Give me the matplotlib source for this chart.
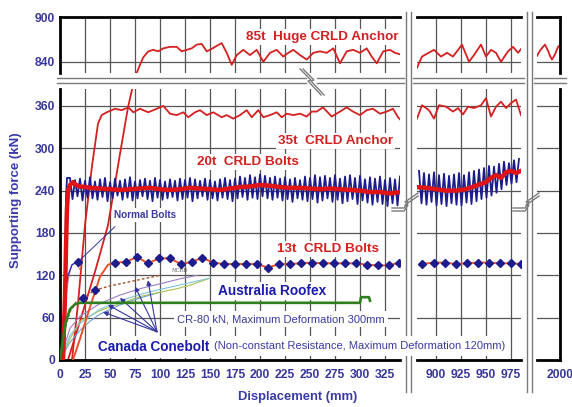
"""
Supporting force vs displacement for CRLD bolts / anchors and
comparison bolts (broken-axis figure, three x ranges, two y ranges).
"""

import numpy as np
import matplotlib
matplotlib.use("Agg")
import matplotlib.pyplot as plt


# ============================================================
# DATA  (displacement mm, force kN)
# ============================================================

ANCHOR85_LOAD = [(8, 0), (20, 55), (35, 125), (48, 191), (60, 292), (68, 358), (72.5, 386), (74, 400)]
ANCHOR85_LEFT = [(76.7, 825), (80, 836), (83.3, 846), (88.3, 854), (93.3, 856), (98.3, 854), (103.3, 858),
                 (110, 860), (116.7, 860), (121.7, 854), (126.7, 856), (131.7, 858), (136.7, 863), (141.7, 864),
                 (146.7, 854), (150, 856), (155, 860), (161.7, 865), (166.7, 852), (171.7, 836), (176.7, 849),
                 (183.3, 856), (190, 849), (196.7, 856), (203.3, 840), (210, 852), (216.7, 856), (223.3, 847),
                 (228.3, 852), (233.3, 856), (240, 849), (246.7, 843), (253.3, 852), (260, 854), (266.7, 852),
                 (273.3, 858), (280, 838), (286.7, 854), (293.3, 856), (300, 852), (306.7, 858), (311.7, 847),
                 (316.7, 838), (323.3, 854), (330, 856), (335, 852), (340, 850)]
ANCHOR85_MID = [(881, 832), (886, 847), (898, 856), (905, 847), (911, 852), (917, 847), (926, 863), (933, 840),
                (938, 849), (945, 863), (950, 847), (955, 856), (960, 852), (965, 840), (972, 854), (977, 860),
                (982, 852), (985, 857)]
ANCHOR85_RIGHT = [(1977, 848), (1980, 855), (1983, 860), (1985, 863), (1988, 855), (1990, 848), (1992, 843),
                  (1995, 850), (1998, 860), (2000, 862)]

ANCHOR35_LEFT = [(12, 0), (18, 80), (25, 191), (32, 275), (38, 335), (41.7, 347), (46.7, 351), (55, 356),
                 (61.7, 354), (68.3, 358), (73.3, 351), (80, 356), (88.3, 351), (96.7, 356), (103.3, 360),
                 (110, 349), (116.7, 347), (123.3, 351), (128.3, 344), (135, 351), (140, 354), (146.7, 347),
                 (153.3, 351), (161.7, 344), (166.7, 347), (173.3, 342), (180, 347), (186.7, 354), (191.7, 344),
                 (198.3, 354), (203.3, 344), (210, 347), (216.7, 351), (221.7, 344), (226.7, 349), (233.3, 347),
                 (240, 349), (246.7, 345), (251.7, 352), (256.7, 352), (263, 358), (271.7, 345), (280, 352),
                 (286.7, 358), (293, 352), (300, 347), (306.7, 354), (313, 356), (320, 349), (326.7, 352),
                 (333, 356), (338, 344), (340, 341)]
ANCHOR35_MID = [(881, 342), (886, 361), (893, 354), (898, 342), (903, 361), (910, 359), (917, 352), (922, 357),
                (927, 348), (932, 359), (938, 357), (945, 361), (950, 371), (955, 345), (960, 359), (965, 366),
                (970, 357), (975, 364), (980, 369), (985, 347)]

BOLT20_LEFT = [(3, 0), (5, 90), (6, 160), (7, 215), (8, 240), (10, 248), (13, 252), (16, 248), (20, 246),
               (30, 244), (40, 243), (50, 242), (60, 241), (70, 242), (80, 243), (90, 244), (100, 242),
               (110, 241), (120, 242), (130, 244), (140, 243), (150, 242), (160, 241), (170, 243), (180, 245),
               (190, 246), (200, 248), (210, 247), (220, 245), (230, 244), (240, 244), (250, 243), (260, 242),
               (270, 243), (280, 242), (290, 241), (300, 240), (310, 238), (320, 238), (330, 236), (340, 238)]
BOLT20_MID = [(881, 245), (890, 244), (900, 242), (910, 240), (920, 240), (930, 242), (940, 247), (950, 252),
              (955, 258), (960, 262), (965, 258), (970, 266), (975, 268), (980, 265), (985, 268)]

# raw (oscillating) 20t record: rise, then alternating peaks / troughs
BOLT20_RAW_RISE = [(4, 0), (5, 120), (6, 230), (7, 258)]
BOLT20_RAW_PEAKS = [258, 255, 257, 254, 259, 253, 256, 258, 252, 257, 254, 256, 259, 253, 255, 257, 254, 258,
                    255, 253, 256, 254, 257, 255, 258, 256, 254, 257, 255, 253, 256, 258, 255, 257, 260, 258,
                    262, 259, 263, 261, 258, 260, 257, 259, 256, 258, 255, 260, 258, 262, 259, 261, 258, 262,
                    257, 260, 262, 258, 261, 256, 259, 257, 260, 255, 258, 256, 260]
BOLT20_RAW_TROUGHS = [228, 232, 226, 230, 229, 227, 231, 225, 229, 233, 227, 230, 226, 229, 232, 228, 225, 230,
                      227, 229, 231, 226, 228, 230, 225, 229, 232, 227, 229, 226, 230, 228, 225, 229, 231, 227,
                      230, 228, 232, 229, 227, 230, 226, 228, 224, 229, 227, 225, 228, 223, 226, 229, 224, 227,
                      222, 225, 228, 221, 226, 223, 220, 224, 221, 218, 222, 219]
BOLT20_RAW_MID_PEAKS = [268, 265, 263, 266, 262, 264, 261, 263, 265, 262, 266, 268, 270, 272, 275, 274, 278,
                        281, 279, 283, 285]
BOLT20_RAW_MID_TROUGHS = [222, 220, 224, 219, 221, 218, 222, 220, 219, 223, 221, 225, 228, 230, 233, 237, 242,
                          248, 250, 252]

BOLT13_RISE = [(13, 0), (20, 30), (30, 75), (40, 118), (48, 135)]
BOLT13_LEFT = [(55, 138), (66, 139), (77, 146), (88, 137), (99, 144), (110, 144), (121, 136), (132, 139),
               (142, 145), (153, 138), (164, 136), (175, 136), (186, 136), (197, 136), (208, 131), (219, 136),
               (230, 136), (241, 137), (252, 138), (263, 137), (274, 137), (285, 137), (296, 137), (307, 135),
               (318, 134), (329, 134), (339, 138)]
BOLT13_MID = [(886, 136), (898, 138), (909, 138), (920, 136), (931, 137), (942, 138), (953, 138), (964, 137),
              (975, 137), (985, 136)]

ROOFEX = [(0, 0), (3, 30), (6, 55), (10, 72), (15, 79), (20, 81), (300, 81), (301, 89), (309, 89), (310, 84)]

NORMAL_PINK = [(0, 0), (3, 40), (6, 90), (9, 120), (12, 135), (15, 138), (17, 135), (20, 128)]
NORMAL_BLUE = [(2, 0), (5, 95), (8, 120), (12, 135), (18, 139)]

CONE_BROWN = [(0, 0), (5, 45), (10, 68), (16, 82), (23, 88), (35, 99), (50, 105), (70, 111), (100, 120)]
CONE_PURPLE = [(0, 0), (10, 45), (20, 62), (40, 80), (60, 92), (80, 101), (100, 108), (120, 115), (137, 120)]
CONE_LIGHTBLUE = [(0, 0), (10, 35), (20, 52), (40, 72), (60, 84), (80, 93), (100, 100), (125, 108), (150, 116)]
CONE_OLIVE = [(0, 0), (10, 30), (20, 55), (40, 70), (60, 80), (80, 90), (100, 96), (117, 101), (130, 106),
              (150, 116)]
CONE_STEEL = [(0, 0), (10, 25), (20, 42), (30, 55), (40, 65), (60, 78), (80, 88), (100, 96)]

CONE_ARROW_FROM = (97, 40)
CONE_ARROW_TIPS = [(43, 68), (48, 78), (60, 88), (75, 104), (88, 113)]
NORMAL_ARROW_FROM = (55, 189)
NORMAL_ARROW_TIP = (18, 139)

X_TICKS_LEFT = [0, 25, 50, 75, 100, 125, 150, 175, 200, 225, 250, 275, 300, 325]
X_TICKS_MID = [900, 925, 950, 975]
X_TICKS_RIGHT = [2000]
Y_TICKS_BOTTOM = [0, 60, 120, 180, 240, 300, 360]
Y_TICKS_TOP = [840, 900]


# ============================================================
# LAYOUT (pixels of a 572 x 407 canvas)
# ============================================================

W, H = 572, 407
TICK_COLOR = "#37379a"
LABEL_COLOR = "#3a3aa8"
GRID_COLOR = "#555555"
BREAK_COLOR = "#7a7a7a"
RED = "#d42020"
NAVY = "#1c1c8c"

plt.rcParams["font.family"] = ["Liberation Sans", "DejaVu Sans"]


def xy(points):
    arr = np.array(points, dtype=float)
    return arr[:, 0], arr[:, 1]


def axes_at(fig, x0, y0, x1, y1):
    return fig.add_axes([x0 / W, 1 - y1 / H, (x1 - x0) / W, (y1 - y0) / H])


def oscillation(x0, x1, peaks, troughs):
    """Interleave peak and trough readings along the displacement range."""
    xp = np.linspace(x0, x1, len(peaks))
    step = xp[1] - xp[0]
    xt = xp[: len(troughs)] + step / 2
    xs = np.empty(len(xp) + len(xt))
    ys = np.empty_like(xs)
    xs[0::2], ys[0::2] = xp, peaks
    xs[1::2], ys[1::2] = xt, troughs
    return xs, ys


def style_panel(ax, xlim, ylim, xticks, yticks, show_x, show_y, spines):
    ax.set_xlim(*xlim)
    ax.set_ylim(*ylim)
    ax.set_xticks(xticks)
    ax.set_yticks(yticks)
    ax.grid(True, color=GRID_COLOR, linewidth=0.9)
    ax.set_axisbelow(True)
    ax.tick_params(length=0, labelsize=8.7, labelcolor=TICK_COLOR, pad=6.5 if show_x else 3.5)
    ax.tick_params(axis="y", pad=3.5)
    for lab in ax.get_xticklabels() + ax.get_yticklabels():
        lab.set_fontweight("bold")
    if not show_x:
        ax.set_xticklabels([])
    if not show_y:
        ax.set_yticklabels([])
    for side, spine in ax.spines.items():
        if side in spines:
            spine.set_color("black")
            spine.set_linewidth(2.0)
        else:
            spine.set_visible(False)


# ============================================================
# FIGURE
# ============================================================

def main() -> None:
    fig = plt.figure(figsize=(W / 100, H / 100), dpi=100)

    cols = {
        "left": (60, 400, (0, 340), X_TICKS_LEFT),
        "mid": (417, 521, (881, 985), X_TICKS_MID),
        "right": (537, 560, (1977, 2000), X_TICKS_RIGHT),
    }
    rows = {
        "top": (17, 73, (825, 900), Y_TICKS_TOP),
        "bottom": (89, 360, (0, 384), Y_TICKS_BOTTOM),
    }
    axs = {}
    for rname, (y0, y1, ylim, yt) in rows.items():
        for cname, (x0, x1, xlim, xt) in cols.items():
            ax = axes_at(fig, x0, y0, x1, y1)
            spines = ["top"] if rname == "top" else ["bottom"]
            if cname == "left":
                spines.append("left")
            if cname == "right":
                spines.append("right")
            style_panel(ax, xlim, ylim, xt, yt, rname == "bottom", cname == "left", spines)
            axs[(rname, cname)] = ax

    tl, tm, tr = axs[("top", "left")], axs[("top", "mid")], axs[("top", "right")]
    bl, bm = axs[("bottom", "left")], axs[("bottom", "mid")]

    # 85t huge anchor
    tl.plot(*xy(ANCHOR85_LEFT), color=RED, lw=1.3)
    tm.plot(*xy(ANCHOR85_MID), color=RED, lw=1.3)
    tr.plot(*xy(ANCHOR85_RIGHT), color=RED, lw=1.3)
    bl.plot(*xy(ANCHOR85_LOAD), color=RED, lw=1.3)

    # 35t anchor
    bl.plot(*xy(ANCHOR35_LEFT), color=RED, lw=1.3)
    bm.plot(*xy(ANCHOR35_MID), color=RED, lw=1.3)

    # 20t bolts: raw oscillating record + smoothed
    rx, ry = xy(BOLT20_RAW_RISE)
    ox, oy = oscillation(10, 340, BOLT20_RAW_PEAKS, BOLT20_RAW_TROUGHS)
    bl.plot(np.r_[rx, ox], np.r_[ry, oy], color=NAVY, lw=1.3, zorder=3)
    mx, my = oscillation(883, 983, BOLT20_RAW_MID_PEAKS, BOLT20_RAW_MID_TROUGHS)
    bm.plot(mx, my, color=NAVY, lw=1.3, zorder=3)
    bl.plot(*xy(BOLT20_LEFT), color="#e01414", lw=3.2, zorder=4)
    bm.plot(*xy(BOLT20_MID), color="#e01414", lw=3.2, zorder=4)

    # 13t bolts
    bl.plot(*xy(BOLT13_RISE + BOLT13_LEFT), color="#e8502a", lw=1.4, zorder=4)
    bl.plot(*xy(BOLT13_LEFT), ls="none", marker="D", ms=3.6, color=NAVY, zorder=5)
    bm.plot(*xy(BOLT13_MID), color="#e8502a", lw=1.4, zorder=4)
    bm.plot(*xy(BOLT13_MID), ls="none", marker="D", ms=3.6, color=NAVY, zorder=5)

    # comparison bolts
    bl.plot(*xy(CONE_STEEL), color="#6a9fd0", lw=0.8)
    bl.plot(*xy(CONE_OLIVE), color="#a8c050", lw=0.8)
    bl.plot(*xy(CONE_LIGHTBLUE), color="#7fc4d8", lw=0.8)
    bl.plot(*xy(CONE_PURPLE), color="#9a7fc8", lw=0.8)
    bl.plot(*xy(CONE_BROWN), color="#a0522d", lw=1.0, ls=(0, (2, 1.5)))
    bx, by = xy(CONE_BROWN)
    bl.plot(bx[4:6], by[4:6], ls="none", marker="D", ms=3.6, color=NAVY, zorder=5)
    bl.plot(*xy(ROOFEX), color="#2e7d1e", lw=1.9, zorder=4)
    bl.plot(*xy(NORMAL_PINK), color="#c88080", lw=0.8)
    bl.plot(*xy(NORMAL_BLUE), color="#2828c0", lw=0.9)
    bl.plot(*NORMAL_ARROW_TIP, ls="none", marker="D", ms=3.6, color=NAVY, zorder=5)

    for tip in CONE_ARROW_TIPS:
        bl.annotate("", xy=tip, xytext=CONE_ARROW_FROM,
                    arrowprops=dict(arrowstyle="-|>", color="#3535a0", lw=0.8,
                                    mutation_scale=7, shrinkA=0, shrinkB=0))
    bl.annotate("", xy=NORMAL_ARROW_TIP, xytext=NORMAL_ARROW_FROM,
                arrowprops=dict(arrowstyle="-", color="#3535a0", lw=0.7, shrinkA=0, shrinkB=0))
    bl.text(120, 127, "MCRD", fontsize=3.5, family="serif", color="#555555", ha="center", va="center")

    # overlay in canvas pixels: axis breaks and labels
    ov = fig.add_axes([0, 0, 1, 1], zorder=5)
    ov.set_xlim(0, W)
    ov.set_ylim(H, 0)
    ov.axis("off")
    ov.patch.set_visible(False)

    for yy in (78.3, 82.5):
        for xa, xb in ((57, 306), (317, 404), (413, 524), (534, 566)):
            ov.plot([xa, xb], [yy, yy], color=BREAK_COLOR, lw=1.0)
    for xx in (406, 410.5, 527, 531.5):
        ov.plot([xx, xx], [12, 392], color=BREAK_COLOR, lw=1.0)
    zig = np.array([(0, 0), (11, 11), (8, 12), (21, 26)])
    for dx in (0, 3):
        ov.plot(300 + dx + zig[:, 0], 69 + zig[:, 1], color=BREAK_COLOR, lw=1.0)
    bolt = np.array([(0, 0), (12, 0), (16, -6), (13, -6), (26, -15)])
    for x0 in (392, 513):
        ov.fill_between([x0 + 10, x0 + 16], 203, 209, color="white", zorder=1)
        for dy in (0, -3):
            ov.plot(x0 + bolt[:, 0], 211 + dy + bolt[:, 1], color=BREAK_COLOR, lw=1.0)

    box = dict(facecolor="white", edgecolor="none", pad=1.2)
    red_bold = dict(color=RED, fontweight="bold", fontsize=9.7, ha="left", va="center", bbox=box)
    ov.text(246, 37, "85t  Huge CRLD Anchor", **red_bold)
    ov.text(278, 141, "35t  CRLD Anchor", **red_bold)
    ov.text(197, 162, "20t  CRLD Bolts", **red_bold)
    ov.text(277, 249, "13t  CRLD Bolts", **red_bold)
    ov.text(114, 215, "Normal Bolts", color="#3a3aa0", fontweight="bold", fontsize=7.2,
            ha="left", va="center", bbox=box)
    ov.text(218, 291, "Australia Roofex", color="#1a1ab0", fontweight="bold", fontsize=9.8,
            ha="left", va="center", bbox=box)
    ov.text(177, 319, "CR-80 kN, Maximum Deformation 300mm", color="#3a3aa0", fontsize=8,
            ha="left", va="center", bbox=dict(facecolor="white", edgecolor="none", pad=2.5))
    ov.text(98, 347, "Canada Conebolt", color="#1a1ab0", fontweight="bold", fontsize=9.8,
            ha="left", va="center", bbox=dict(facecolor="white", edgecolor="none", pad=3))
    ov.text(214, 346, "(Non-constant Resistance, Maximum Deformation 120mm)", color="#3a3aa0",
            fontsize=8, ha="left", va="center", bbox=dict(facecolor="white", edgecolor="none", pad=3.5))

    ov.text(16, 200, "Supporting force (kN)", rotation=90, color=LABEL_COLOR, fontweight="bold",
            fontsize=9.5, ha="center", va="center")
    ov.text(298, 397, "Displacement (mm)", color=LABEL_COLOR, fontweight="bold", fontsize=9.4,
            ha="center", va="center")

    fig.savefig("out.png", dpi=100, facecolor="white")
    plt.close(fig)


if __name__ == "__main__":
    main()
